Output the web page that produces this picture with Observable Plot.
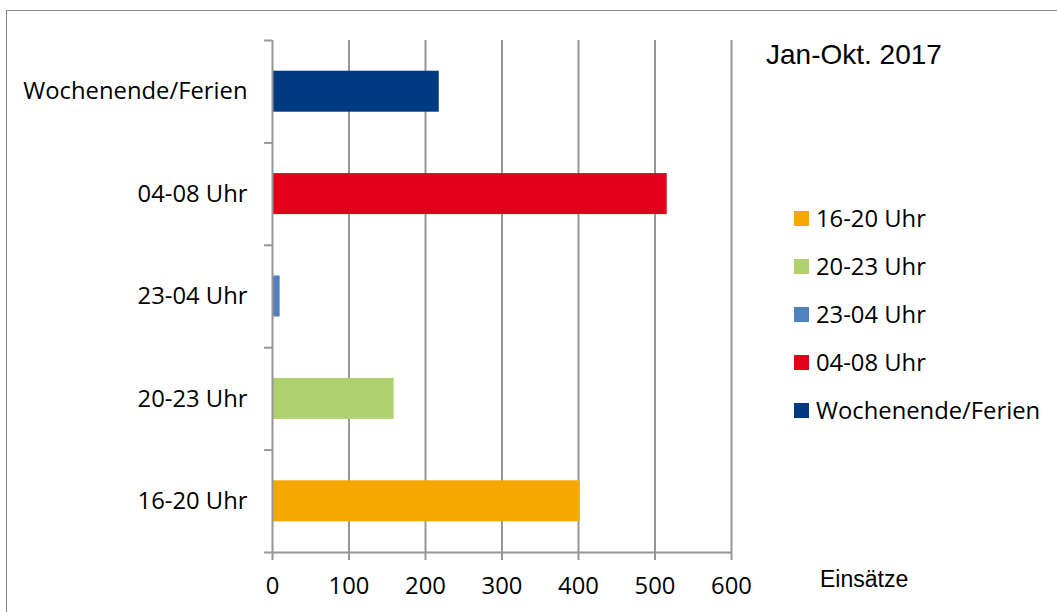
<!DOCTYPE html>
<html>
<head>
<meta charset="utf-8">
<script src="https://cdn.jsdelivr.net/npm/d3@7"></script>
<script src="https://cdn.jsdelivr.net/npm/@observablehq/plot@0.6"></script>
<style>
  html, body { margin: 0; padding: 0; background: #fff; }
  #wrap { position: relative; width: 1057px; height: 612px; overflow: hidden; background: #fff; }
  #border { position: absolute; left: 6px; top: 10px; width: 1060px; height: 620px;
            border-left: 1.5px solid #8a8a8a; border-top: 1.5px solid #8a8a8a; box-sizing: border-box; }
  #chart { position: absolute; left: 0; top: 0; }
  .lbl { position: absolute; white-space: nowrap; color: #000; }
  #title { left: 766px; top: 41px; font: 28px "Liberation Sans", Arial, sans-serif; line-height: 28px; }
  #xlab { left: 820px; top: 568px; font: 23px "Liberation Sans", Arial, sans-serif; line-height: 22px; }
  #legend { position: absolute; left: 794px; top: 194px; font: 23.8px "Open Sans", sans-serif; }
  .item { display: flex; align-items: center; height: 48px; }
  .sw { width: 15px; height: 15px; margin-right: 7px; flex: none; }
</style>
</head>
<body>
<div id="wrap">
  <div id="border"></div>
  <div id="chart"></div>
  <div class="lbl" id="title">Jan-Okt. 2017</div>
  <div class="lbl" id="xlab">Einsätze</div>
  <div id="legend"></div>
</div>
<script>
// Categories from bottom to top of the chart
const categories = ["16-20 Uhr", "20-23 Uhr", "23-04 Uhr", "04-08 Uhr", "Wochenende/Ferien"];
const values = [402, 159, 10, 516, 218];
const colors = ["#F5A800", "#AFD06C", "#4F81BD", "#E2001A", "#003A80"];
const xTicks = [0, 100, 200, 300, 400, 500, 600];
const titleText = "Jan-Okt. 2017";
const xLabel = "Einsätze";

const data = categories.map((c, i) => ({cat: c, idx: i, value: values[i]}));
const boundaries = d3.range(categories.length + 1);
const centers = categories.map((c, i) => i + 0.5);
const grey = "#969696";
const font = "'Open Sans', sans-serif";
const fs = 23.8;

const chart = Plot.plot({
  width: 1057,
  height: 612,
  marginLeft: 272,
  marginRight: 326,
  marginTop: 40,
  marginBottom: 60,
  style: {background: "transparent", fontFamily: font, fontSize: fs + "px", color: "#000"},
  x: {domain: [0, 600]},
  y: {domain: [0, categories.length]},
  color: {domain: categories, range: colors},
  marks: [
    Plot.gridX(xTicks.filter(t => t > 0), {stroke: grey, strokeOpacity: 1, strokeWidth: 2}),
    Plot.rectX(data, {
      x1: 0, x2: "value",
      y1: "idx", y2: d => d.idx + 1,
      fill: "cat",
      insetTop: 30.7, insetBottom: 30.7
    }),
    Plot.ruleX([0], {stroke: grey, strokeWidth: 2}),
    Plot.ruleY([0], {stroke: grey, strokeWidth: 2}),
    Plot.axisX({ticks: xTicks, tickSize: 8, tickPadding: 17, stroke: grey, strokeWidth: 2,
                fontSize: fs, fill: "#000", label: null, tickFormat: d3.format("d")}),
    Plot.axisY({ticks: boundaries, tickSize: 8, tickFormat: () => "", stroke: grey, strokeWidth: 2, label: null}),
    Plot.axisY({ticks: centers, tickSize: 0, tickPadding: 25, fontSize: fs, fill: "#000", label: null,
                tickFormat: d => categories[Math.floor(d)]})
  ]
});
document.getElementById("chart").appendChild(chart);

document.getElementById("title").textContent = titleText;
document.getElementById("xlab").textContent = xLabel;

const legend = document.getElementById("legend");
categories.forEach((c, i) => {
  const item = document.createElement("div");
  item.className = "item";
  const sw = document.createElement("div");
  sw.className = "sw";
  sw.style.background = colors[i];
  const t = document.createElement("span");
  t.textContent = c;
  item.appendChild(sw);
  item.appendChild(t);
  legend.appendChild(item);
});
</script>
</body>
</html>
